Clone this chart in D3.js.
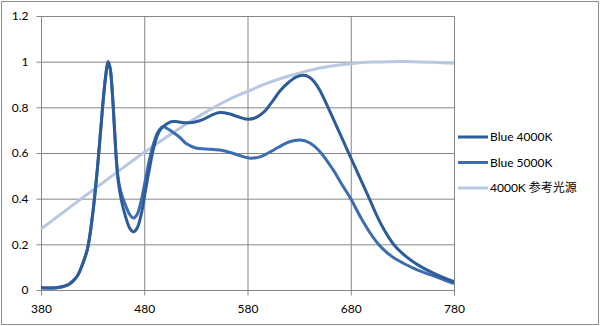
<!DOCTYPE html>
<html>
<head>
<meta charset="utf-8">
<script src="https://cdn.jsdelivr.net/npm/d3@7"></script>
<style>
  body { margin: 0; background: #fff; }
  svg text { font-family: Lato, "Noto Sans CJK SC", sans-serif; font-size: 12px; fill: #000; }
</style>
</head>
<body>
<svg id="chart" width="600" height="326"></svg>
<script>
// wavelength (nm) and relative intensity
const blue4000K = [
  [380,0.01],[395,0.01],[405,0.02],[410,0.035],[415,0.06],[420,0.11],[425,0.18],[430,0.33],
  [435,0.55],[440,0.82],[443,0.95],[445,1.0],[447,0.97],[449,0.87],[451,0.72],[453,0.57],
  [455,0.47],[458,0.39],[462,0.32],[466,0.27],[469.5,0.255],[473,0.27],[477,0.33],[481,0.43],
  [485,0.53],[489,0.62],[493,0.68],[497,0.71],[501,0.725],[506,0.737],[512,0.737],[520,0.732],
  [528,0.735],[536,0.745],[545,0.765],[553,0.777],[562,0.772],[570,0.76],[580,0.748],[588,0.755],
  [596,0.78],[604,0.825],[612,0.875],[620,0.91],[627,0.932],[634,0.94],[640,0.932],[645,0.91],
  [650,0.875],[656,0.82],[662,0.76],[668,0.7],[674,0.64],[680,0.58],[690,0.48],[698,0.4],
  [704,0.338],[710,0.283],[716,0.236],[722,0.197],[730,0.16],[740,0.125],[750,0.097],[760,0.074],
  [770,0.054],[780,0.037]
];
const blue5000K = [
  [380,0.01],[395,0.01],[405,0.02],[410,0.035],[415,0.06],[420,0.11],[425,0.18],[430,0.33],
  [435,0.55],[440,0.82],[443,0.95],[445,1.0],[447,0.97],[449,0.87],[451,0.72],[453,0.57],
  [455,0.48],[458,0.42],[462,0.37],[466,0.33],[469.5,0.315],[473,0.33],[477,0.39],[481,0.48],
  [485,0.57],[489,0.64],[493,0.69],[498,0.715],[503,0.705],[508,0.69],[514,0.67],[521,0.64],
  [530,0.622],[540,0.618],[553,0.613],[565,0.6],[575,0.585],[583,0.577],[592,0.583],[600,0.6],
  [610,0.625],[620,0.648],[631,0.657],[640,0.645],[650,0.607],[663,0.526],[671,0.465],[680,0.4],
  [690,0.315],[698,0.255],[706,0.205],[714,0.168],[722,0.14],[730,0.12],[740,0.097],[750,0.078],
  [760,0.062],[770,0.045],[780,0.028]
];
const reference4000K = [
  [380,0.267],[400,0.335],[420,0.403],[440,0.47],[460,0.537],[480,0.603],[500,0.665],[520,0.725],
  [540,0.78],[560,0.83],[580,0.87],[600,0.907],[620,0.937],[640,0.962],[660,0.98],[680,0.991],
  [700,0.998],[720,1.0],[740,1.0],[760,0.997],[780,0.993]
];

const seriesNames = ["Blue 4000K", "Blue 5000K", "4000K 参考光源"];
const seriesColors = ["#2d5c9a", "#3b6db0", "#b9c8e1"];
const xTicks = [380, 480, 580, 680, 780];
const yTicks = [0, 0.2, 0.4, 0.6, 0.8, 1, 1.2];

const width = 600, height = 326;
const marginLeft = 41, marginRight = 146, marginTop = 16, marginBottom = 36;

const svg = d3.select("#chart");

// outer chart border
svg.append("rect")
  .attr("x", 1.5).attr("y", 1.5)
  .attr("width", width - 3).attr("height", height - 3)
  .attr("fill", "#fff").attr("stroke", "#8c8c8c");

const x = d3.scaleLinear([380, 780], [marginLeft, width - marginRight]);
const y = d3.scaleLinear([0, 1.2], [height - marginBottom, marginTop]);

const gridColor = "#868686";

// y axis + horizontal gridlines
svg.append("g")
  .attr("transform", `translate(${marginLeft + 0.5},0)`)
  .call(d3.axisLeft(y).tickValues(yTicks).tickSize(5).tickPadding(8).tickFormat(d3.format("~g")))
  .call(g => g.select(".domain").remove())
  .call(g => g.selectAll(".tick line").attr("stroke", gridColor))
  .call(g => g.selectAll(".tick line").clone()
      .attr("x1", 0).attr("x2", width - marginLeft - marginRight))
  .call(g => g.selectAll(".tick text").attr("font-size", null).attr("font-family", null));

// x axis + vertical gridlines
svg.append("g")
  .attr("transform", `translate(0,${height - marginBottom + 0.5})`)
  .call(d3.axisBottom(x).tickValues(xTicks).tickSize(5).tickPadding(9).tickFormat(d3.format("d")))
  .call(g => g.select(".domain").remove())
  .call(g => g.selectAll(".tick line").attr("stroke", gridColor))
  .call(g => g.selectAll(".tick line").clone()
      .attr("y1", 0).attr("y2", -(height - marginTop - marginBottom)))
  .call(g => g.selectAll(".tick text").attr("font-size", null).attr("font-family", null));

const line = d3.line()
  .x(d => x(d[0]))
  .y(d => y(d[1]))
  .curve(d3.curveCatmullRom.alpha(0.5));

const allSeries = [blue4000K, blue5000K, reference4000K];

// draw reference first so blue lines sit on top
[2, 1, 0].forEach(i => {
  svg.append("path")
    .datum(allSeries[i])
    .attr("fill", "none")
    .attr("stroke", seriesColors[i])
    .attr("stroke-width", 3)
    .attr("stroke-linejoin", "round")
    .attr("d", line);
});

// legend
const legend = svg.append("g").attr("transform", "translate(458,137)");
seriesNames.forEach((name, i) => {
  const g = legend.append("g").attr("transform", `translate(0,${i * 25.5})`);
  g.append("line")
    .attr("x1", 0).attr("x2", 30)
    .attr("stroke", seriesColors[i]).attr("stroke-width", 3);
  g.append("text")
    .attr("x", 32).attr("dy", "0.35em")
    .text(name);
});
</script>
</body>
</html>
